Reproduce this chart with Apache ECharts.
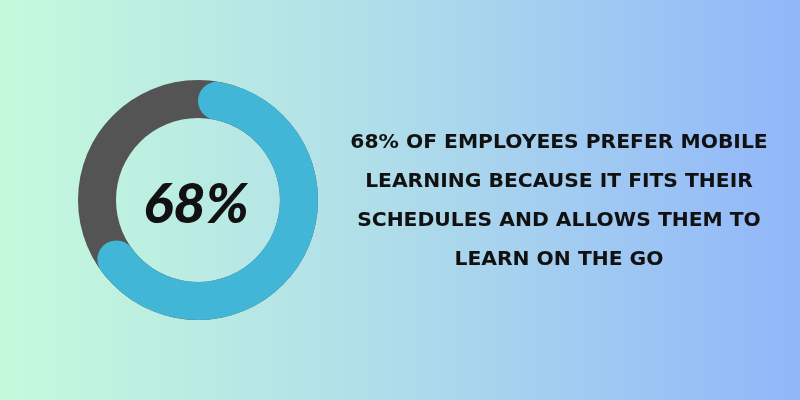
<!DOCTYPE html>
<html>
<head>
<meta charset="utf-8">
<script src="https://cdn.jsdelivr.net/npm/echarts@6/dist/echarts.min.js"></script>
<style>
html,body{margin:0;padding:0;width:800px;height:400px;overflow:hidden;}
#chart{width:800px;height:400px;}
</style>
</head>
<body>
<div id="chart"></div>
<script>
var categories = ['Prefer mobile learning', 'Other'];
var values = [68, 32];
var centerLabel = '68%';
var statementLines = [
  '68% OF EMPLOYEES PREFER MOBILE',
  'LEARNING BECAUSE IT FITS THEIR',
  'SCHEDULES AND ALLOWS THEM TO',
  'LEARN ON THE GO'
];

var chart = echarts.init(document.getElementById('chart'));
var ringRadius = [82, 120];
var center = [198, 200];

chart.setOption({
  backgroundColor: {
    type: 'linear', x: 0, y: 0, x2: 1, y2: 0,
    colorStops: [
      {offset: 0, color: '#c6fadc'},
      {offset: 0.5, color: '#aedcea'},
      {offset: 1, color: '#91b6fa'}
    ]
  },
  animation: false,
  title: [
    {
      text: centerLabel,
      left: 191, top: 200,
      textAlign: 'center', textVerticalAlign: 'middle',
      textStyle: {fontFamily: 'Lato', fontWeight: 900, fontStyle: 'italic', fontSize: 56, color: '#111111'}
    },
    {
      text: statementLines.join('\n'),
      left: 554, top: 118,
      textAlign: 'center',
      textStyle: {fontFamily: 'DejaVu Sans', fontWeight: 'bold', fontSize: 20.3, lineHeight: 39, color: '#111111'}
    }
  ],
  series: [
    {
      type: 'pie',
      radius: ringRadius,
      center: center,
      silent: true,
      label: {show: false},
      labelLine: {show: false},
      itemStyle: {color: '#545454'},
      data: [{name: 'track', value: 1}]
    },
    {
      type: 'pie',
      radius: ringRadius,
      center: center,
      startAngle: 90,
      clockwise: true,
      silent: true,
      label: {show: false},
      labelLine: {show: false},
      data: [
        {name: categories[0], value: values[0], itemStyle: {color: '#41b6d6', borderRadius: 19}},
        {name: categories[1], value: values[1], itemStyle: {color: 'rgba(0,0,0,0)'}}
      ]
    }
  ]
});
</script>
</body>
</html>
